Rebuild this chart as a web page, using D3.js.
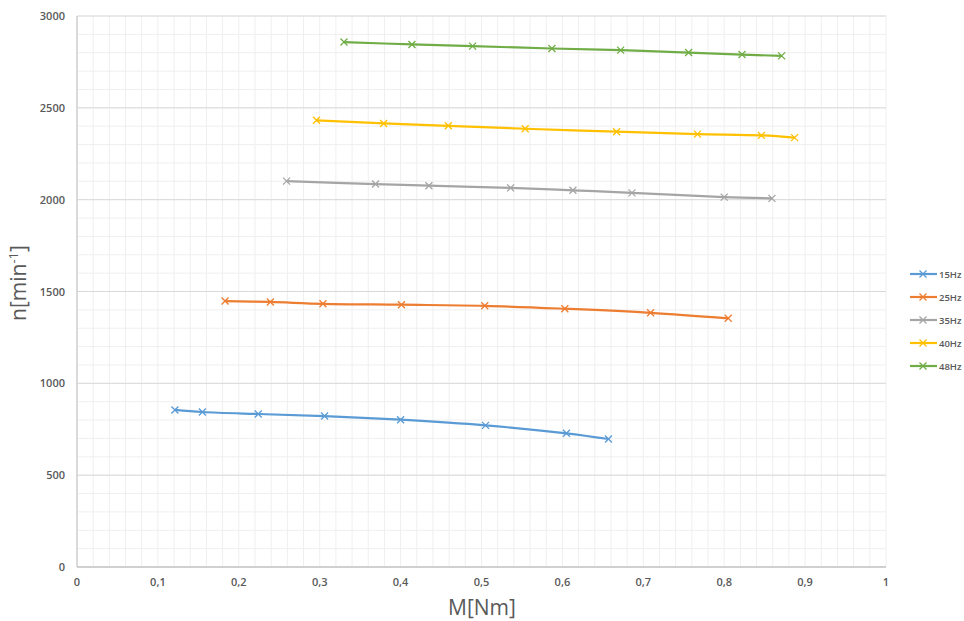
<!DOCTYPE html>
<html>
<head>
<meta charset="utf-8">
<script src="https://cdn.jsdelivr.net/npm/d3@7"></script>
<style>
  body { margin: 0; background: #fff; }
  text { font-family: "Open Sans", "Liberation Sans", sans-serif; }
</style>
</head>
<body>
<div id="chart"></div>
<script>
// series names and colours (Excel default palette)
var seriesNames = ["15Hz", "25Hz", "35Hz", "40Hz", "48Hz"];
var seriesColors = ["#5B9BD5", "#ED7D31", "#A5A5A5", "#FFC000", "#70AD47"];

// torque M[Nm] and speed n[min-1] for each frequency
var m15 = [0.121, 0.155, 0.224, 0.306, 0.400, 0.505, 0.605, 0.657];
var n15 = [855, 844, 833, 822, 802, 771, 728, 697];
var m25 = [0.183, 0.239, 0.304, 0.401, 0.504, 0.603, 0.709, 0.805];
var n25 = [1448, 1443, 1433, 1428, 1422, 1406, 1384, 1354];
var m35 = [0.259, 0.369, 0.435, 0.536, 0.613, 0.686, 0.800, 0.859];
var n35 = [2101, 2085, 2076, 2064, 2051, 2037, 2014, 2007];
var m40 = [0.296, 0.379, 0.459, 0.554, 0.667, 0.767, 0.846, 0.887];
var n40 = [2432, 2415, 2402, 2386, 2370, 2357, 2350, 2338];
var m48 = [0.330, 0.414, 0.489, 0.587, 0.672, 0.756, 0.822, 0.871];
var n48 = [2858, 2845, 2836, 2823, 2814, 2801, 2790, 2783];

var xTicks = [0, 0.1, 0.2, 0.3, 0.4, 0.5, 0.6, 0.7, 0.8, 0.9, 1];
var yTicks = [0, 500, 1000, 1500, 2000, 2500, 3000];

var allM = [m15, m25, m35, m40, m48];
var allN = [n15, n25, n35, n40, n48];

var series = seriesNames.map(function(name, i) {
    return {
        name: name,
        color: seriesColors[i],
        values: allM[i].map(function(m, j) { return {m: m, n: allN[i][j]}; })
    };
});

var width = 964, height = 621;
var margin = {top: 16, right: 78, bottom: 54, left: 77};

var svg = d3.select("#chart")
  .append("svg")
    .attr("width", width)
    .attr("height", height);

var x = d3.scaleLinear().domain([0, 1]).range([margin.left, width - margin.right]);
var y = d3.scaleLinear().domain([0, 3000]).range([height - margin.bottom, margin.top]);

var locale = d3.formatLocale({decimal: ",", thousands: "", grouping: [3], currency: ["", ""]});
var fmtX = function(d) { return d == 0 || d == 1 ? String(d) : locale.format(".1f")(d); };

// minor grid
var g = svg.append("g");
g.selectAll("line.vminor")
  .data(d3.range(0, 1.0001, 0.02))
  .enter().append("line")
    .attr("x1", d => x(d)).attr("x2", d => x(d))
    .attr("y1", y(0)).attr("y2", y(3000))
    .attr("stroke", "#EFEFEF").attr("stroke-width", 1);
g.selectAll("line.hminor")
  .data(d3.range(0, 3001, 100))
  .enter().append("line")
    .attr("x1", x(0)).attr("x2", x(1))
    .attr("y1", d => y(d)).attr("y2", d => y(d))
    .attr("stroke", "#EFEFEF").attr("stroke-width", 1);
// major horizontal grid
g.selectAll("line.hmajor")
  .data(yTicks)
  .enter().append("line")
    .attr("x1", x(0)).attr("x2", x(1))
    .attr("y1", d => y(d)).attr("y2", d => y(d))
    .attr("stroke", "#D9D9D9").attr("stroke-width", 1);

// axes lines
svg.append("line")
  .attr("x1", x(0)).attr("x2", x(0)).attr("y1", y(0)).attr("y2", y(3000))
  .attr("stroke", "#D0D0D0").attr("stroke-width", 1.5);
svg.append("line")
  .attr("x1", x(0)).attr("x2", x(1)).attr("y1", y(0)).attr("y2", y(0))
  .attr("stroke", "#C8C8C8").attr("stroke-width", 1.5);

// tick labels
svg.selectAll("text.ytick")
  .data(yTicks)
  .enter().append("text")
    .attr("x", x(0) - 12)
    .attr("y", d => y(d) + 4)
    .attr("text-anchor", "end")
    .attr("font-size", 11)
    .attr("font-weight", 600)
    .attr("fill", "#595959")
    .text(d => d);
svg.selectAll("text.xtick")
  .data(xTicks)
  .enter().append("text")
    .attr("x", d => x(d))
    .attr("y", y(0) + 19)
    .attr("text-anchor", "middle")
    .attr("font-size", 11)
    .attr("font-weight", 600)
    .attr("fill", "#595959")
    .text(fmtX);

// axis titles
svg.append("text")
  .attr("x", 482)
  .attr("y", 615)
  .attr("text-anchor", "middle")
  .attr("font-size", 21)
  .attr("fill", "#595959")
  .text("M[Nm]");

var yt = svg.append("text")
  .attr("transform", "translate(26,283) rotate(-90)")
  .attr("text-anchor", "middle")
  .attr("font-size", 21)
  .attr("fill", "#595959");
yt.append("tspan").text("n[min");
yt.append("tspan").attr("dy", -8).attr("font-size", 13).text("-1");
yt.append("tspan").attr("dy", 8).text("]");

// lines
var line = d3.line()
  .x(d => x(d.m))
  .y(d => y(d.n))
  .curve(d3.curveCatmullRom);

function cross(sel, s) {
  var r = 3.5;
  sel.append("path")
    .attr("d", "M" + (-r) + "," + (-r) + "L" + r + "," + r + "M" + (-r) + "," + r + "L" + r + "," + (-r))
    .attr("stroke", s.color)
    .attr("stroke-width", 1.3)
    .attr("fill", "none");
}

series.forEach(function(s) {
  svg.append("path")
    .datum(s.values)
    .attr("d", line)
    .attr("fill", "none")
    .attr("stroke", s.color)
    .attr("stroke-width", 2.2);
  svg.selectAll(null)
    .data(s.values)
    .enter().append("g")
      .attr("transform", d => "translate(" + x(d.m) + "," + y(d.n) + ")")
      .each(function() { cross(d3.select(this), s); });
});

// legend
var legend = svg.append("g");
series.forEach(function(s, i) {
  var ly = 274 + i * 23;
  var lg = legend.append("g").attr("transform", "translate(0," + ly + ")");
  lg.append("line")
    .attr("x1", 910).attr("x2", 937).attr("y1", 0).attr("y2", 0)
    .attr("stroke", s.color).attr("stroke-width", 2.2);
  var mk = lg.append("g").attr("transform", "translate(923,0)");
  cross(mk, s);
  lg.append("text")
    .attr("x", 939)
    .attr("y", 3.5)
    .attr("font-size", 9.5)
    .attr("font-weight", 600)
    .attr("fill", "#595959")
    .text(s.name);
});
</script>
</body>
</html>
